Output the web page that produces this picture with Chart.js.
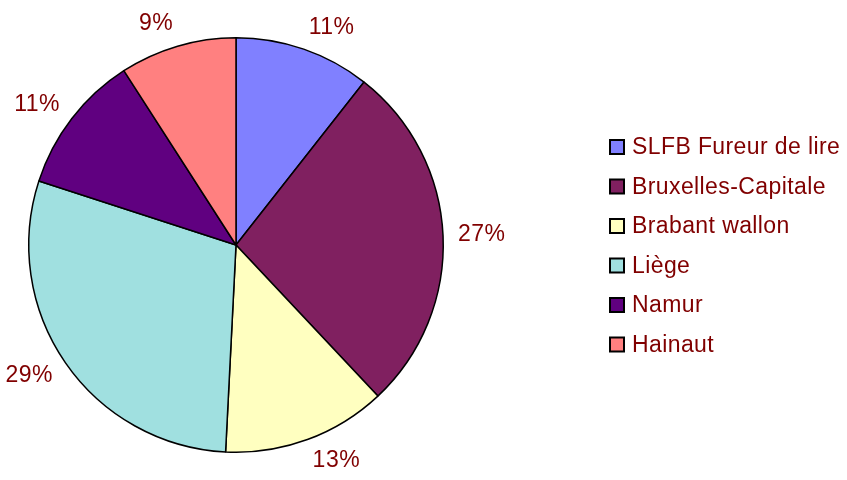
<!DOCTYPE html>
<html>
<head>
<meta charset="utf-8">
<script src="https://cdn.jsdelivr.net/npm/chart.js@4"></script>
<style>
  body { margin: 0; background: #fff; }
</style>
</head>
<body>
<canvas id="pieChart" width="847" height="480"></canvas>
<script>
// data (slice shares in %)
const regions = ["SLFB Fureur de lire", "Bruxelles-Capitale", "Brabant wallon", "Liège", "Namur", "Hainaut"];
const shares = [10.6, 27.4, 12.8, 29.2, 10.9, 9.1];
const sliceColors = ["#8080FF", "#802060", "#FFFFC0", "#A0E0E0", "#600080", "#FF8080"];

const textColor = "#800000";
const fontSpec = "23px Arial, 'Liberation Sans', sans-serif";

// percentage labels outside each slice
const outsideLabels = {
  id: "outsideLabels",
  afterDatasetsDraw(chart) {
    const ctx = chart.ctx;
    const meta = chart.getDatasetMeta(0);
    const values = chart.data.datasets[0].data;
    const total = values.reduce((a, b) => a + b, 0);
    ctx.save();
    ctx.font = fontSpec;
    ctx.letterSpacing = "0.5px";
    ctx.fillStyle = textColor;
    ctx.textAlign = "center";
    ctx.textBaseline = "middle";
    meta.data.forEach((arc, i) => {
      const p = arc.getProps(["x", "y", "startAngle", "endAngle", "outerRadius"], true);
      const mid = (p.startAngle + p.endAngle) / 2;
      const txt = Math.round(values[i] / total * 100) + "%";
      const w = ctx.measureText(txt).width;
      const d = p.outerRadius + 15;
      const cx = p.x + Math.cos(mid) * d + Math.sign(Math.cos(mid)) * w / 2;
      const cy = p.y + Math.sin(mid) * d + Math.sin(mid) * 8;
      ctx.fillText(txt, cx, cy);
    });
    ctx.restore();
  }
};

// legend on the right, drawn from the chart's own labels and colours
const sideLegend = {
  id: "sideLegend",
  afterDraw(chart) {
    const ctx = chart.ctx;
    const labels = chart.data.labels;
    const colors = chart.data.datasets[0].backgroundColor;
    ctx.save();
    ctx.font = fontSpec;
    ctx.letterSpacing = "0.4px";
    ctx.textAlign = "left";
    ctx.textBaseline = "middle";
    labels.forEach((lab, i) => {
      const y = 147 + i * 39.5;
      ctx.fillStyle = colors[i];
      ctx.fillRect(610, y - 7, 14, 14);
      ctx.strokeStyle = "#000";
      ctx.lineWidth = 2;
      ctx.strokeRect(610, y - 7, 14, 14);
      ctx.fillStyle = textColor;
      ctx.fillText(lab, 632, y + 1);
    });
    ctx.restore();
  }
};

new Chart(document.getElementById("pieChart"), {
  type: "pie",
  data: {
    labels: regions,
    datasets: [{
      data: shares,
      backgroundColor: sliceColors,
      borderColor: "#000",
      borderWidth: 1.5
    }]
  },
  options: {
    responsive: false,
    animation: false,
    layout: { padding: { left: 28, top: 37, right: 403, bottom: 27 } },
    plugins: {
      legend: { display: false },
      tooltip: { enabled: false }
    }
  },
  plugins: [outsideLabels, sideLegend]
});
</script>
</body>
</html>
